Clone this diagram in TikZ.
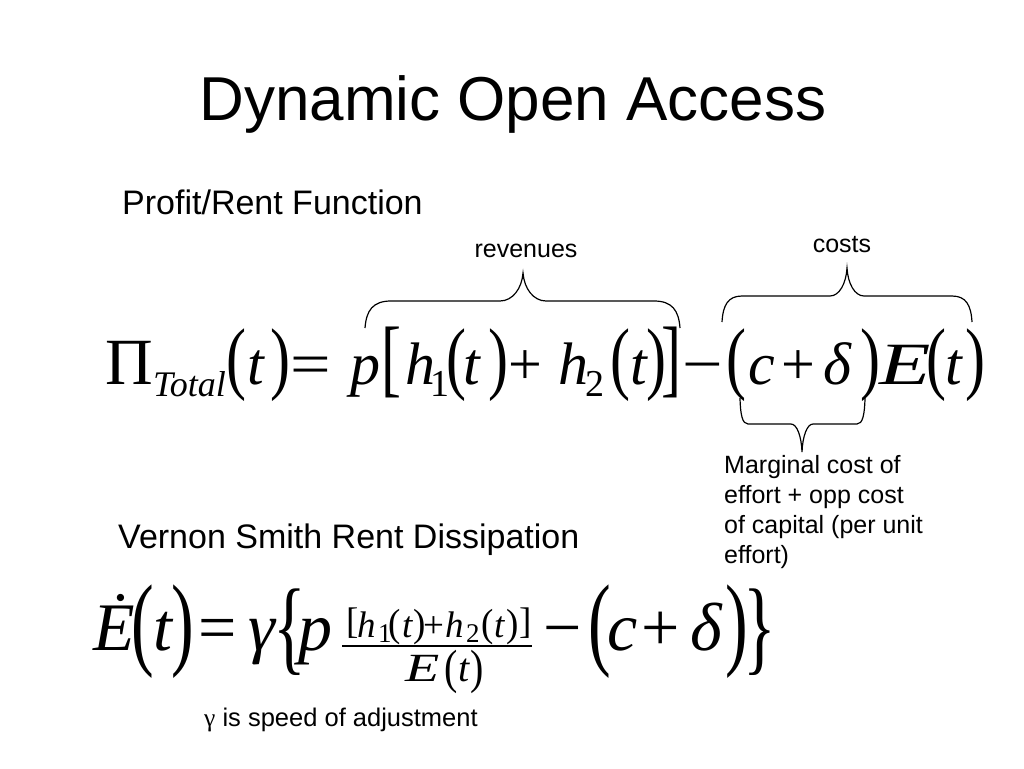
\documentclass[tikz,border=0pt]{standalone}
\usepackage{fontspec}
\usepackage{graphicx}
\setmainfont{Liberation Sans}
\newfontfamily\tnr{Liberation Serif}

\newcommand\mi[1]{{\itshape #1}}
\newcommand\wideE{\scalebox{1.4}[1]{\itshape E}}
\newcommand\tall[3]{\raisebox{#2pt}{\scalebox{1}[#1]{#3}}}
% formula 1 delimiters
\newcommand\pA{\tall{1.34}{0}{(}}
\newcommand\pB{\tall{1.34}{0}{)}}
\newcommand\bA{\tall{1.43}{-2}{[}}
\newcommand\bB{\tall{1.43}{-2}{]}}
\newcommand\eqA{\scalebox{1.2}[1]{=}}
\newcommand\minA{\scalebox{1.2}[1]{−}}
% formula 2 delimiters
\newcommand\pC{\tall{1.52}{-6}{(}}
\newcommand\pD{\tall{1.52}{-6}{)}}
\newcommand\cA{\tall{1.54}{-11}{\{}}
\newcommand\cB{\tall{1.54}{-11}{\}}}
\newcommand\pE{\tall{1.06}{1}{(}}
\newcommand\pF{\tall{1.06}{1}{)}}
\newcommand\bC{\tall{1}{4}{[}}
\newcommand\bD{\tall{1}{4}{]}}
\newcommand\pG{\tall{1.2}{-2.5}{(}}
\newcommand\pH{\tall{1.2}{-2.5}{)}}

% brace: x1 x2 xtip yend yflat ytip corner tip
\newcommand\curly[8]{%
  \draw[brace] (#1,#4) .. controls ({#1+0.05*#7},{#5+0.35*(#4-#5)}) and ({#1+0.3*#7},#5) .. ({#1+#7},#5)
    -- ({#3-#8},#5) .. controls ({#3-0.45*#8},#5) and ({#3-0.05*#8},{#5+0.45*(#6-#5)}) .. (#3,#6)
    .. controls ({#3+0.05*#8},{#5+0.45*(#6-#5)}) and ({#3+0.45*#8},#5) .. ({#3+#8},#5)
    -- ({#2-#7},#5) .. controls ({#2-0.3*#7},#5) and ({#2-0.05*#7},{#5+0.35*(#4-#5)}) .. (#2,#4);}

\tikzstyle{title} = [anchor=base, inner sep=0pt, font=\fontsize{62}{70}\selectfont]
\tikzstyle{head} = [anchor=base west, inner sep=0pt, font=\fontsize{34}{40}\selectfont]
\tikzstyle{note} = [anchor=base, inner sep=0pt, font=\fontsize{25}{30}\selectfont]
\tikzstyle{big} = [anchor=base west, inner sep=0pt, font=\tnr\fontsize{60}{60}\selectfont]
\tikzstyle{huge} = [big, font=\tnr\fontsize{68}{68}\selectfont]
\tikzstyle{sub} = [big, font=\tnr\fontsize{38}{38}\selectfont]
\tikzstyle{num} = [big, font=\tnr\fontsize{37}{37}\selectfont]
\tikzstyle{den} = [big, font=\tnr\fontsize{40}{40}\selectfont]
\tikzstyle{tiny} = [big, font=\tnr\fontsize{27}{27}\selectfont]
\tikzstyle{brace} = [line width=1.2pt]

\begin{document}
\begin{tikzpicture}[x=1pt, y=-1pt]
    \fill[white] (0,0) rectangle (1024,768);
    \useasboundingbox (0,0) rectangle (1024,768);
    % Place texts
    \node [title] (title) at (513,120) {Dynamic Open Access};
    \node [head] (profit) at (122,214) {Profit/Rent Function};
    \node [note] (rev) at (526,257) {revenues};
    \node [note] (cost) at (842,252) {costs};
    \node [note, anchor=north west, align=left] (mc) at (724,455)
        {Marginal cost of\\effort + opp cost\\of capital (per unit\\effort)};
    \node [head] (vernon) at (118,548) {Vernon Smith Rent Dissipation};
    \node [note, anchor=base west, font=\fontsize{25.5}{30}\selectfont] (gam) at (204,726)
        {{\tnr γ} is speed of adjustment};
    % Profit function
    \node [big, font=\tnr\fontsize{66}{66}\selectfont] (pi) at (105,384) {Π};
    \node [sub, font=\tnr\fontsize{36}{36}\selectfont] (total) at (153,396) {\mi{Total}};
    \node [sub] (one) at (430,396) {1};
    \node [sub] (two) at (585,396) {2};
    \foreach \x/\s [count=\i] in {226/\pA, 247/\mi{t}, 270/\pB, 290/\eqA, 350/\mi{p},
        381/\bA, 405/\mi{h}, 446/\pA, 463/\mi{t}, 488/\pB, 508/+, 558/\mi{h},
        610/\pA, 630/\mi{t}, 646/\pB, 661/\bB, 682/\minA, 726/\pA, 748/\mi{c},
        781/+, 823/\mi{δ}, 860/\pB, 879/\wideE, 926/\pA, 945/\mi{t}, 965/\pB}
        \node [big] (fa\i) at (\x,384) {\s};
    % Rent dissipation
    \foreach \x/\s [count=\i] in {93/\mi{Ė}, 131/\pC, 153/\mi{t}, 171/\pD, 198/=,
        248/\mi{γ}, 273/\cA, 298/\mi{p}, 543/−, 588/\pC, 607/\mi{c}, 641/+,
        690/\mi{δ}, 725/\pD, 743/\cB}
        \node [huge] (fb\i) at (\x,650) {\s};
    \foreach \x/\s [count=\i] in {346/\bC, 357/\mi{h}, 388/\pE, 402/\mi{t}, 413/\pF,
        423/+, 445/\mi{h}, 481/\pE, 494/\mi{t}, 506/\pF, 519/\bD}
        \node [num] (nu\i) at (\x,637) {\s};
    \node [tiny] (none) at (378,642) {1};
    \node [tiny] (ntwo) at (466,642) {2};
    \foreach \x/\s [count=\i] in {405/\wideE, 444/\pG, 458/\mi{t}, 470/\pH}
        \node [den] (de\i) at (\x,681) {\s};
    \draw [line width=1.5pt] (342,646) -- (532,646);
    % Braces
    \curly{365}{680}{523}{328}{301}{273}{26}{23}
    \curly{722}{972}{847}{322}{296}{268}{20}{17}
    \curly{740}{865}{802}{398}{424}{452}{8}{11}
\end{tikzpicture}
\end{document}
